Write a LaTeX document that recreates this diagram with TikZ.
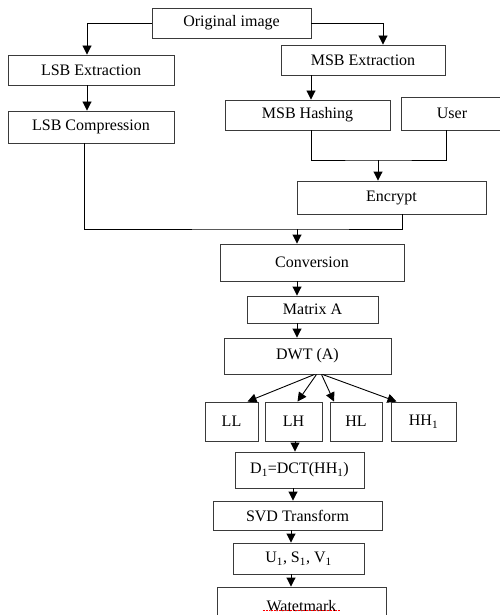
\documentclass[tikz,border=0pt]{standalone}
\usepackage{fontspec}
\setmainfont{Liberation Serif}
\usepackage{tikz}
\usetikzlibrary{arrows.meta,calc}
\definecolor{frame}{HTML}{3A3A3A}

\begin{document}
\begin{tikzpicture}[
  x=1pt,y=-1pt,
  box/.style={rectangle,draw=frame,line width=0.9pt,fill=white,inner sep=0pt,
              font=\fontsize{16}{19}\selectfont},
  link/.style={black,line width=0.9pt},
  arr/.style={link,-{Triangle[length=9pt,width=9pt]}}
]
  \clip (0,0) rectangle (500,615);

  % Top part: the image is split into LSB and MSB
  \node[box,minimum width=159,minimum height=30] (orig) at (231.5,23)  {Original image};
  \node[box,minimum width=166,minimum height=30] (lsbx) at (91,70)     {LSB Extraction};
  \node[box,minimum width=166,minimum height=32] (lsbc) at (91,127)    {LSB Compression};
  \node[box,minimum width=164,minimum height=30] (msbx) at (363,60)    {MSB Extraction};
  \node[box,minimum width=165,minimum height=30] (msbh) at (307.5,115) {MSB Hashing};
  \node[box,minimum width=102,minimum height=33] (user) at (452,113.5) {User};
  \node[box,minimum width=189,minimum height=33] (enc)  at (391.5,197.5) {Encrypt};

  % Main chain
  \node[box,minimum width=184,minimum height=37] (conv) at (312,262.5)   {Conversion};
  \node[box,minimum width=131,minimum height=27] (mat)  at (312.5,309.5) {Matrix A};
  \node[box,minimum width=167,minimum height=36] (dwt)  at (307.5,356)   {DWT (A)};

  % Sub-bands
  \node[box,minimum width=53,minimum height=39] (ll)  at (231.5,421.5) {LL};
  \node[box,minimum width=57,minimum height=39] (lh)  at (293.5,421.5) {LH};
  \node[box,minimum width=52,minimum height=39] (hl)  at (356,421.5)   {HL};
  \node[box,minimum width=65,minimum height=39] (hh)  at (423.5,421.5) {HH\textsubscript{1}};

  \node[box,minimum width=129,minimum height=36] (dct) at (299.5,470)   {D\textsubscript{1}=DCT(HH\textsubscript{1})};
  \node[box,minimum width=169,minimum height=29] (svd) at (297.5,515.5) {SVD Transform};
  \node[box,minimum width=131,minimum height=31] (usv) at (298.5,558.5) {U\textsubscript{1}, S\textsubscript{1}, V\textsubscript{1}};
  \node[box,minimum width=169,minimum height=44] (wm)  at (301.5,609)   {\raisebox{6pt}{Watetmark}};
  \draw[red,densely dotted,line width=0.6pt] ($(wm.center)+(-39,1)$) -- ($(wm.center)+(38,1)$);

  % Joints of the connectors
  \coordinate (mix)   at (378,160);
  \coordinate (merge) at (297,229);

  % Connectors of the upper part
  \draw[arr] (orig.west) -| ([xshift=-4pt]lsbx.north);
  \draw[arr] (orig.east) -| ([xshift=20pt]msbx.north);
  \draw[arr] ([xshift=-4pt]lsbx.south) -- ([xshift=-4pt]lsbc.north);
  \draw[arr] (msbx.south -| 311,0) -- (msbh.north -| 311,0);
  \draw[link] (msbh.south -| 311,0) |- (mix) -| (user.south -| 446,0);
  \draw[arr] (mix) -- (enc.north -| mix);
  \draw[link] (lsbc.south -| 84,0) |- (merge) -| (enc.south -| 402,0);
  \draw[arr] (merge) -- (conv.north -| merge);

  % Straight chain down
  \foreach \a/\b/\x in {conv/mat/297,mat/dwt/297,lh/dct/295,dct/svd/293,svd/usv/291,usv/wm/291}{
    \draw[arr] (\a.south -| \x,0) -- (\b.north -| \x,0);
  }

  % DWT fan into the four sub-bands
  \draw[arr] ([xshift=7pt]dwt.south)  -- ([xshift=16pt]ll.north);
  \draw[arr] ([xshift=9pt]dwt.south)  -- ([xshift=4pt]lh.north);
  \draw[arr] ([xshift=14pt]dwt.south) -- ([xshift=-22pt]hl.north);
  \draw[arr] ([xshift=15pt]dwt.south) -- ([xshift=-27pt]hh.north);
\end{tikzpicture}
\end{document}
